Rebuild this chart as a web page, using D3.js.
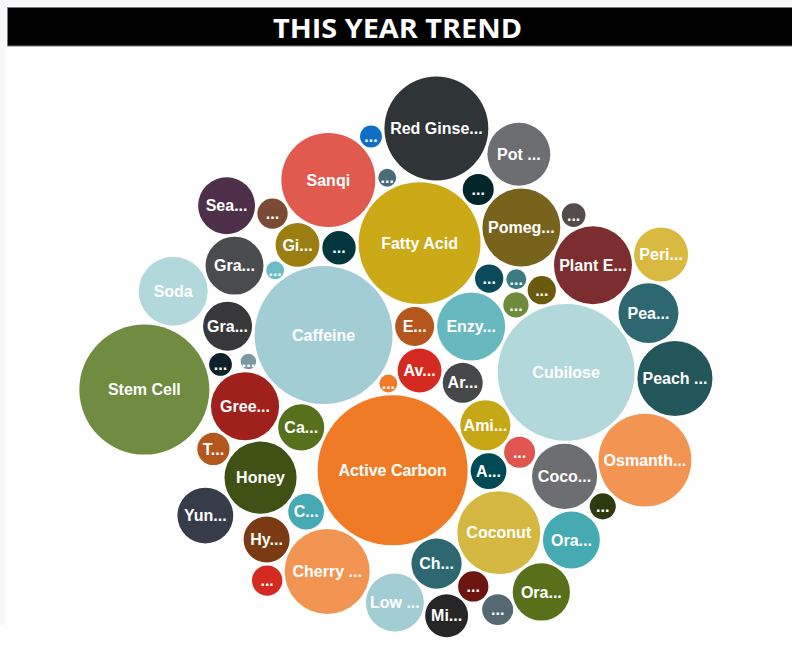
<!DOCTYPE html>
<html>
<head>
<meta charset="utf-8">
<script src="https://cdn.jsdelivr.net/npm/d3@7"></script>
<style>
  html, body { margin: 0; padding: 0; background: #ffffff; }
  svg { display: block; }
</style>
</head>
<body>
<svg id="chart" width="792" height="659"></svg>
<script>
// ---- data (array order drives the spiral seeding of the force layout) ----
const labels = ["Av...", "...", "E...", "Ar...", "Caffeine", "Enzy...", "Active Carbon", "...", "Ami...", "Ca...",
  "...", "A...", "...", "...", "C...", "Fatty Acid", "...", "...", "...", "Ch...",
  "Gi...", "Cubilose", "Honey", "...", "Coconut", "Gra...", "...", "Cherry ...", "Sanqi", "Coco...",
  "Gree...", "Pomeg...", "...", "Gra...", "Pea...", "Hy...", "...", "Ora...", "...", "Plant E...",
  "Low ...", "...", "Osmanth...", "T...", "Pot ...", "...", "Soda", "Peri...", "...", "...",
  "...", "Stem Cell", "...", "Mi...", "Sea...", "Peach ...", "Yun...", "Red Ginse...", "Ora..."];
const values = [48, 8, 38, 40, 476, 116, 563, 28, 63, 53,
  20, 32, 8, 16, 32, 372, 24, 6, 10, 63,
  48, 469, 130, 24, 172, 60, 20, 181, 221, 106,
  116, 152, 23, 84, 90, 53, 8, 81, 13, 152,
  84, 23, 216, 26, 99, 24, 119, 73, 23, 12,
  17, 423, 14, 46, 81, 141, 78, 270, 82];
const colors = ["#d42a21", "#f07a27", "#b5561c", "#454749", "#a3cdd5", "#67b8bf", "#f07b26", "#01363f", "#c6a817", "#56701c",
  "#0b4a5a", "#004a55", "#6cbcc8", "#6d8a3d", "#45aab2", "#cba917", "#df5550", "#7a9aa0", "#3a7a80", "#2d6870",
  "#9a7e12", "#b2d8dc", "#3f5115", "#01262a", "#d4b841", "#38383a", "#6b5a0e", "#f29553", "#e05a4e", "#6d6e71",
  "#a0201b", "#77631c", "#6d1511", "#4a4b4d", "#2d6870", "#7a3b12", "#4a6b78", "#45aab2", "#0e2129", "#7b2d2f",
  "#a3cdd5", "#7b4a35", "#f29553", "#b3571f", "#6d6e71", "#556a70", "#b2d8dc", "#d9b93f", "#d42a21", "#0f6fc6",
  "#2f3a10", "#708c41", "#554a4c", "#262626", "#4e2f4a", "#22565a", "#363c4a", "#2f3437", "#577019"];
const title = "THIS YEAR TREND";

// ---- layout ----
const W = 792, H = 659;
const cx = 410, cy = 372;
const svg = d3.select("#chart");

svg.append("rect").attr("x", 0).attr("y", 0).attr("width", W).attr("height", 6).attr("fill", "#f8f7fa");
svg.append("rect").attr("x", 0).attr("y", 0).attr("width", 6).attr("height", 625).attr("fill", "#f8f7fa");
svg.append("rect").attr("x", 7.5).attr("y", 7.5).attr("width", 790).attr("height", 38.5)
  .attr("fill", "#000").attr("stroke", "#7a7a7a").attr("stroke-width", 1);
svg.append("text").attr("x", 397.5).attr("y", 38)
  .attr("text-anchor", "middle")
  .attr("font-family", "'Open Sans', 'Liberation Sans', Arial, sans-serif")
  .attr("font-weight", 700).attr("font-size", 26)
  .attr("textLength", 249).attr("lengthAdjust", "spacingAndGlyphs")
  .attr("fill", "#fff").text(title);

const rScale = d3.scaleSqrt().domain([0, d3.max(values)]).range([0, 75]);
const golden = Math.PI * (3 - Math.sqrt(5));
const spread = 39;
const nodes = values.map((v, i) => {
  const rad = spread * Math.sqrt(i + 0.5), a = i * golden;
  return { label: labels[i], value: v, color: colors[i], r: rScale(v),
           x: cx + rad * Math.cos(a), y: cy + rad * Math.sin(a) };
});

const sim = d3.forceSimulation(nodes)
  .force("x", d3.forceX(cx).strength(0.006))
  .force("y", d3.forceY(cy).strength(0.008))
  .force("collide", d3.forceCollide(d => d.r + 1.5).strength(0.9).iterations(3))
  .stop();
for (let i = 0; i < 300; i++) sim.tick();

const g = svg.append("g");
const node = g.selectAll("g.bubble").data(nodes).join("g")
  .attr("class", "bubble")
  .attr("transform", d => `translate(${d.x},${d.y})`);
node.append("circle").attr("r", d => d.r).attr("fill", d => d.color);
node.append("text")
  .attr("text-anchor", "middle").attr("dy", "0.35em")
  .attr("font-family", "'Liberation Sans', Arial, sans-serif")
  .attr("font-weight", 700).attr("font-size", 16)
  .attr("fill", "#fff")
  .text(d => d.label);
</script>
</body>
</html>
